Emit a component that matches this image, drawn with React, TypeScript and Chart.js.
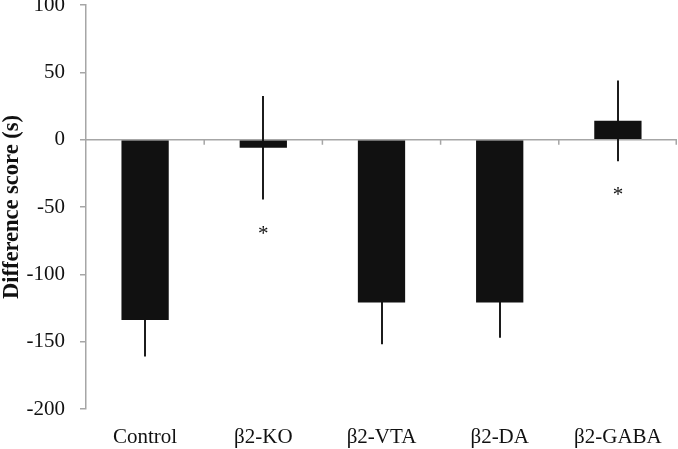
import React, { useEffect, useRef } from "react";
import { Chart, registerables } from "chart.js";

Chart.register(...registerables);

const categories = ["Control", "β2-KO", "β2-VTA", "β2-DA", "β2-GABA"];
const means = [-134, -6, -121, -121, 14];
const errors = [27, 38.5, 31, 26, 30];
const asteriskValues: (number | null)[] = [null, -67, null, null, -38];
const yTicks = [100, 50, 0, -50, -100, -150, -200];

const FONT = "'Liberation Serif', 'Times New Roman', serif";
const AXIS_GRAY = "#a6a6a6";

const overlayPlugin = {
  id: "overlay",
  beforeDatasetsDraw(chart: any) {
    const { ctx, scales, chartArea } = chart;
    const x = scales.x;
    const y = scales.y;
    const y0 = y.getPixelForValue(0);
    ctx.save();
    // zero axis line with category-boundary ticks
    ctx.strokeStyle = AXIS_GRAY;
    ctx.lineWidth = 1.5;
    ctx.beginPath();
    ctx.moveTo(chartArea.left, y0);
    ctx.lineTo(chartArea.right, y0);
    const n = categories.length;
    for (let i = 1; i <= n; i++) {
      const px =
        i < n
          ? (x.getPixelForValue(i - 1) + x.getPixelForValue(i)) / 2
          : chartArea.right - 0.75;
      ctx.moveTo(px, y0);
      ctx.lineTo(px, y0 + 5);
    }
    ctx.stroke();
    // error bars
    ctx.strokeStyle = "#1c1c1c";
    ctx.lineWidth = 2;
    means.forEach((m, i) => {
      const px = Math.round(x.getPixelForValue(i));
      ctx.beginPath();
      ctx.moveTo(px, y.getPixelForValue(m + errors[i]));
      ctx.lineTo(px, y.getPixelForValue(m - errors[i]));
      ctx.stroke();
    });
    ctx.restore();
  },
  afterDatasetsDraw(chart: any) {
    const { ctx, scales } = chart;
    const x = scales.x;
    const y = scales.y;
    ctx.save();
    ctx.fillStyle = "#111";
    ctx.font = `21px ${FONT}`;
    ctx.textAlign = "center";
    ctx.textBaseline = "alphabetic";
    const m = ctx.measureText("*");
    const shift = (m.actualBoundingBoxAscent - m.actualBoundingBoxDescent) / 2;
    asteriskValues.forEach((v, i) => {
      if (v === null) return;
      ctx.fillText("*", x.getPixelForValue(i), y.getPixelForValue(v) + shift);
    });
    ctx.restore();
  },
};

export default function App() {
  const ref = useRef<HTMLCanvasElement>(null);
  useEffect(() => {
    if (!ref.current) return;
    const chart = new Chart(ref.current, {
      type: "bar",
      data: {
        labels: categories,
        datasets: [
          {
            data: means,
            backgroundColor: "#111111",
            borderWidth: 0,
            barPercentage: 0.4,
            categoryPercentage: 1,
          },
        ],
      },
      options: {
        animation: false,
        responsive: true,
        maintainAspectRatio: false,
        layout: { padding: { top: 0, right: 1, bottom: 0, left: 0 } },
        plugins: {
          legend: { display: false },
          tooltip: { enabled: false },
        },
        scales: {
          x: {
            grid: { display: false, drawTicks: false },
            border: { display: false },
            ticks: {
              color: "#111",
              font: { family: FONT, size: 21 },
              padding: 16,
              maxRotation: 0,
              autoSkip: false,
            },
            afterFit: (scale: any) => {
              scale.height = 40;
              scale.paddingLeft = 0;
              scale.paddingRight = 0;
            },
          },
          y: {
            min: -200,
            max: 100,
            afterBuildTicks: (axis: any) => {
              axis.ticks = yTicks.map((v) => ({ value: v }));
            },
            grid: {
              drawOnChartArea: false,
              drawTicks: true,
              tickLength: 6,
              color: AXIS_GRAY,
              lineWidth: 1.5,
            },
            border: { display: true, color: AXIS_GRAY, width: 1.5 },
            ticks: {
              color: "#111",
              font: { family: FONT, size: 21 },
              padding: 15,
            },
            title: {
              display: true,
              text: "Difference score (s)",
              color: "#111",
              font: { family: FONT, size: 22.5, weight: "bold", lineHeight: 1 },
              padding: { top: 1, bottom: 0 },
            },
            afterFit: (scale: any) => {
              scale.width = 86;
              scale.paddingTop = 5;
              scale.paddingBottom = 0;
            },
          },
        },
      },
      plugins: [overlayPlugin],
    });
    return () => chart.destroy();
  }, []);
  return (
    <div
      style={{
        position: "fixed",
        left: 0,
        top: 0,
        width: 678,
        height: 449,
        background: "#fff",
      }}
    >
      <canvas ref={ref} />
    </div>
  );
}
